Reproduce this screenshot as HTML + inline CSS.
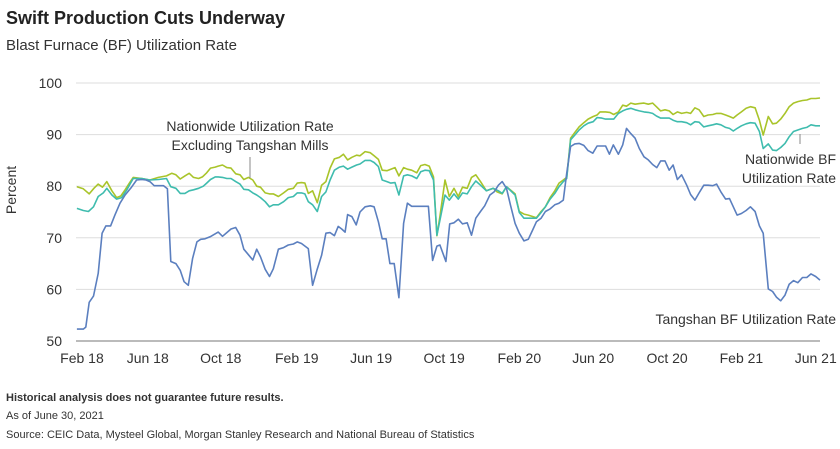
<!DOCTYPE html>
<html><head><meta charset="utf-8">
<style>
body{margin:0;background:#fff;font-family:"Liberation Sans",sans-serif;}
svg text{font-family:"Liberation Sans",sans-serif;}
</style></head>
<body>
<svg id="chart" width="840" height="444" viewBox="0 0 840 444">
<text x="6" y="24" font-size="18" font-weight="bold" fill="#222">Swift Production Cuts Underway</text>
<text x="6" y="50" font-size="15" fill="#333">Blast Furnace (BF) Utilization Rate</text>
<text transform="translate(16,190) rotate(-90)" text-anchor="middle" font-size="14" fill="#333">Percent</text>
<g id="grid"></g>
<g id="series"></g>
<text x="250" y="131" text-anchor="middle" font-size="14" fill="#333">Nationwide Utilization Rate</text>
<text x="250" y="150" text-anchor="middle" font-size="14" fill="#333">Excluding Tangshan Mills</text>
<line x1="250" y1="157" x2="250" y2="178" stroke="#888" stroke-width="1"/>
<text x="836" y="164" text-anchor="end" font-size="14" fill="#333">Nationwide BF</text>
<text x="836" y="183" text-anchor="end" font-size="14" fill="#333">Utilization Rate</text>
<line x1="800" y1="134" x2="800" y2="144" stroke="#888" stroke-width="1"/>
<text x="836" y="324" text-anchor="end" font-size="14" fill="#333">Tangshan BF Utilization Rate</text>
<text x="6" y="401" font-size="11" font-weight="bold" fill="#333">Historical analysis does not guarantee future results.</text>
<text x="6" y="419" font-size="11" fill="#333">As of June 30, 2021</text>
<text x="6" y="438" font-size="11" fill="#333">Source: CEIC Data, Mysteel Global, Morgan Stanley Research and National Bureau of Statistics</text>
</svg>
<script>
const yTicks=[50,60,70,80,90,100];
const xTickLabels=["Feb 18","Jun 18","Oct 18","Feb 19","Jun 19","Oct 19","Feb 20","Jun 20","Oct 20","Feb 21","Jun 21"];
const xTickWeeks=[1.4,16.8,33.9,51.7,69.1,86.2,103.8,121.1,138.4,155.8,173.2];
const tangWeeks=[0.2,1.7,2.3,3.1,4.1,5.2,6.1,7.0,8.1,9.1,10.3,11.5,13.0,14.2,15.4,16.4,17.3,18.3,20.5,21.4,22.2,23.4,24.4,25.3,26.3,27.3,28.3,29.2,30.2,31.4,33.3,34.3,35.3,36.3,37.4,38.4,39.3,40.4,41.4,42.3,43.2,44.3,45.3,46.2,47.4,48.6,49.7,50.9,51.8,52.8,54.4,55.4,56.4,57.5,58.5,59.5,60.5,61.4,62.2,63.0,63.6,64.6,65.6,66.5,67.7,68.9,69.8,70.8,71.7,72.6,73.5,74.5,75.6,76.7,77.6,78.6,82.5,83.5,84.5,85.2,86.6,87.5,88.5,89.5,90.5,91.6,92.6,93.6,94.7,95.7,96.9,97.9,98.9,99.8,100.8,101.7,102.8,103.8,104.9,105.9,106.9,107.8,108.9,109.9,111.0,112.1,113.1,114.1,114.9,115.8,116.8,117.8,118.9,119.9,121.0,122.0,123.1,124.0,124.9,125.8,127.0,128.0,128.9,129.9,130.9,131.9,133.0,134.0,135.0,136.0,136.9,137.9,138.9,139.8,140.8,141.8,143.0,143.9,144.9,145.9,147.0,148.0,149.1,150.0,151.0,152.1,153.0,153.9,154.8,155.8,156.9,157.9,159.0,160.0,160.9,162.1,163.1,164.0,165.0,166.0,167.0,168.0,169.0,170.1,171.1,172.1,173.2,174.2];
const tangValues=[52.3,52.3,52.7,57.5,58.7,63.1,70.9,72.3,72.3,74.4,76.7,78.3,79.8,81.2,81.3,81.2,80.9,80.1,80.1,79.5,65.4,65.0,63.7,61.5,60.8,66.0,69.2,69.7,69.8,70.2,71.1,70.3,71.0,71.7,72.0,70.5,67.8,66.7,65.7,67.8,66.3,63.9,62.5,64.0,67.8,68.1,68.6,68.8,69.2,68.9,67.9,60.8,63.7,66.6,70.9,71.0,70.4,72.2,71.7,71.1,74.5,74.1,72.5,75.0,76.0,76.2,76.0,73.1,69.8,69.8,65.0,65.0,58.4,72.8,76.7,76.1,76.1,65.6,68.4,68.6,65.4,72.7,72.9,73.6,72.7,72.9,70.5,73.8,75.1,76.2,78.3,78.9,80.2,80.9,79.6,76.4,72.8,70.9,69.4,69.7,71.5,73.1,73.8,75.1,75.6,76.4,76.7,77.3,82.5,87.7,88.2,88.3,87.9,86.9,86.4,87.8,87.8,87.8,86.2,88.0,86.2,88.0,91.2,90.2,89.3,87.3,85.7,85.1,84.2,83.6,84.9,84.9,83.1,84.1,81.3,82.2,80.2,78.4,77.3,78.7,80.2,80.2,80.1,80.4,78.9,77.5,77.6,76.0,74.4,74.7,75.3,76.0,75.1,72.3,70.9,60.1,59.6,58.5,57.8,58.9,61.0,61.7,61.3,62.3,62.3,63.0,62.5,61.8];
const natWeeks=[0.2,1.7,3.1,4.2,5.2,6.2,7.2,8.4,9.5,10.5,11.5,12.5,13.4,15.4,17.3,19.3,21.2,22.4,23.4,24.4,25.5,26.5,27.5,28.7,29.6,30.6,31.5,32.6,33.3,34.3,35.3,36.3,37.4,38.4,39.3,40.4,41.4,42.3,43.2,44.3,45.3,46.2,47.4,48.6,49.7,50.9,51.8,52.8,53.6,54.4,55.4,56.5,57.5,58.5,59.5,60.5,61.7,62.6,63.6,64.6,65.7,66.5,67.7,68.9,69.8,70.8,71.7,72.8,73.7,74.7,75.6,76.7,77.6,78.6,79.8,80.7,81.7,82.7,83.7,84.5,85.2,86.4,87.4,88.5,89.5,90.5,91.6,92.6,93.6,94.7,96.1,97.7,98.6,99.8,100.8,102.8,103.8,104.9,105.9,107.8,108.9,109.9,111.0,112.1,113.1,114.1,114.9,115.8,116.8,117.8,118.9,119.9,121.1,122.0,122.7,124.0,125.0,125.9,127.0,128.0,128.9,129.9,130.9,131.9,133.0,134.0,135.0,135.9,136.9,137.9,138.9,139.8,140.8,141.8,143.0,143.9,144.9,145.9,147.0,148.0,149.1,150.0,151.0,152.1,153.0,153.9,154.8,155.8,156.9,157.9,159.0,160.0,160.9,162.1,163.1,164.0,165.0,166.0,167.0,168.0,169.0,170.1,171.1,172.1,173.2,174.2];
const natValues=[79.9,79.5,78.5,79.6,80.4,79.8,80.9,79.1,77.8,78.1,79.3,80.6,81.7,81.5,81.2,81.7,82.0,82.5,82.2,81.4,82.0,82.5,81.7,81.5,81.8,82.6,83.5,83.7,83.9,84.1,83.6,83.5,82.4,82.2,81.3,81.7,81.2,80.0,79.8,78.7,78.5,78.5,78.0,78.7,79.4,79.6,80.6,80.7,80.6,78.6,79.1,76.8,80.2,80.9,83.5,85.3,85.6,86.2,85.1,85.6,86.0,85.9,86.7,86.5,85.9,85.2,83.1,83.0,83.3,83.6,82.0,83.6,83.3,83.1,82.6,84.0,84.2,83.9,81.8,70.4,74.1,81.2,78.0,79.6,78.0,79.8,79.6,81.7,82.2,80.9,79.1,79.6,78.9,78.5,79.9,78.5,75.1,74.6,74.4,73.9,75.1,76.0,77.8,79.1,80.6,81.2,81.7,89.3,90.4,91.5,92.3,93.0,93.5,93.8,94.4,94.4,94.3,93.9,94.4,95.7,95.5,96.1,95.9,96.0,96.1,95.9,96.1,95.4,94.6,94.8,94.6,93.9,94.4,94.1,94.3,94.1,95.2,94.8,93.5,93.8,93.9,94.1,94.1,93.8,93.5,93.2,93.8,94.4,95.1,95.4,95.2,92.8,89.9,93.5,92.1,92.2,93.0,94.1,95.4,96.1,96.4,96.6,96.7,97.0,97.0,97.1];
const exWeeks=[0.2,1.7,2.9,4.1,5.2,6.4,7.2,8.4,9.5,10.7,11.9,13.4,15.4,17.3,19.3,21.2,22.2,23.4,24.4,25.5,26.5,27.5,28.7,29.8,30.6,31.5,32.6,33.3,34.3,35.3,36.3,37.4,38.4,39.3,40.4,41.4,42.3,43.2,44.3,45.3,46.2,47.4,48.6,49.7,50.9,51.8,52.8,53.6,54.4,55.4,56.5,57.5,58.5,59.5,60.5,61.7,62.6,63.6,64.6,65.7,66.5,67.7,68.9,69.8,70.8,71.7,72.8,73.7,74.7,75.6,76.7,77.6,78.6,79.8,80.7,81.7,82.7,83.7,84.5,85.2,86.4,87.4,88.5,89.5,90.5,91.6,92.6,93.6,94.7,96.1,97.7,98.9,99.8,100.8,102.8,103.8,104.9,105.9,107.8,108.9,109.9,111.0,112.1,113.1,114.1,114.9,115.8,116.8,117.8,118.9,119.9,121.1,122.0,123.1,124.0,125.0,125.9,127.0,128.0,128.9,129.9,130.9,131.9,133.0,134.0,135.0,135.9,136.9,137.9,138.9,139.8,140.8,141.8,143.0,143.9,144.9,145.9,147.0,148.0,149.1,150.0,151.0,152.1,153.0,153.9,154.8,155.8,156.9,157.9,159.0,160.0,160.9,162.1,163.1,164.0,165.0,166.0,167.0,168.0,169.0,170.1,171.1,172.1,173.2,174.2];
const exValues=[75.7,75.3,75.1,76.0,78.0,78.7,79.6,78.3,77.5,77.8,79.3,81.5,81.5,81.2,81.3,81.5,79.9,79.6,78.6,78.6,79.1,79.3,79.6,80.0,80.6,81.3,81.8,81.8,81.7,81.5,81.5,80.9,80.4,79.4,79.3,78.7,78.3,77.8,77.0,76.0,76.4,76.4,77.0,77.8,78.0,78.7,78.7,78.5,77.0,76.4,75.1,78.0,78.9,81.2,83.1,83.7,83.9,83.3,83.7,84.1,84.3,85.0,85.0,84.6,83.8,81.2,80.9,80.6,80.7,78.3,82.0,82.2,82.0,81.5,82.8,83.1,83.0,81.2,70.5,73.4,78.3,77.3,78.5,77.5,78.7,78.5,79.9,81.0,80.2,79.1,79.6,79.1,78.6,79.9,78.3,74.9,73.8,73.8,73.8,74.9,76.0,77.5,78.6,79.9,80.9,81.5,89.0,89.9,90.9,91.7,92.2,92.5,93.3,93.2,93.0,93.0,93.0,94.1,94.6,94.9,95.1,94.8,94.6,94.4,94.3,94.1,93.6,93.2,93.2,93.2,92.8,92.5,92.5,92.3,91.9,92.5,92.4,91.5,91.7,91.9,92.1,91.9,91.4,91.2,90.7,91.2,91.7,92.1,92.3,92.2,90.6,87.3,88.2,87.0,86.9,87.5,88.3,89.6,90.6,90.9,91.2,91.4,91.9,91.7,91.7];

const NS="http://www.w3.org/2000/svg";
const X0=76,X1=820,Y0=341,Y1=83;
function xs(w){return X0+(w/174.2)*(X1-X0);}
function ys(v){return Y0-(v-50)/50*(Y0-Y1);}
const grid=document.getElementById('grid');
yTicks.forEach(t=>{
  const l=document.createElementNS(NS,'line');
  l.setAttribute('x1',X0);l.setAttribute('x2',X1);
  l.setAttribute('y1',ys(t));l.setAttribute('y2',ys(t));
  l.setAttribute('stroke',t===50?'#bbb':'#ddd');l.setAttribute('stroke-width',t===50?2:1);
  
  
  grid.appendChild(l);
  const tx=document.createElementNS(NS,'text');
  tx.setAttribute('x',62);tx.setAttribute('y',ys(t)+5);tx.setAttribute('text-anchor','end');
  tx.setAttribute('font-size','14');tx.setAttribute('fill','#333');tx.textContent=t;
  
  
  grid.appendChild(tx);
});
xTickLabels.forEach((lab,i)=>{
  const tx=document.createElementNS(NS,'text');
  tx.setAttribute('x',xs(xTickWeeks[i]));tx.setAttribute('y',363);tx.setAttribute('text-anchor','middle');
  tx.setAttribute('font-size','14');tx.setAttribute('fill','#333');tx.textContent=lab;
  
  
  grid.appendChild(tx);
});
const sg=document.getElementById('series');
function draw(ws,vs,color,name){
  const p=document.createElementNS(NS,'polyline');
  p.setAttribute('points',ws.map((w,i)=>xs(w).toFixed(1)+','+ys(vs[i]).toFixed(1)).join(' '));
  p.setAttribute('fill','none');p.setAttribute('stroke',color);p.setAttribute('stroke-width','1.6');
  p.setAttribute('stroke-linejoin','round');
  
  
  sg.appendChild(p);
}
draw(natWeeks,natValues,'#a9c42a','line-nationwide');
draw(exWeeks,exValues,'#3fbcae','line-nationwide-excluding-tangshan');
draw(tangWeeks,tangValues,'#5b7fbf','line-tangshan');
</script>
</body></html>
